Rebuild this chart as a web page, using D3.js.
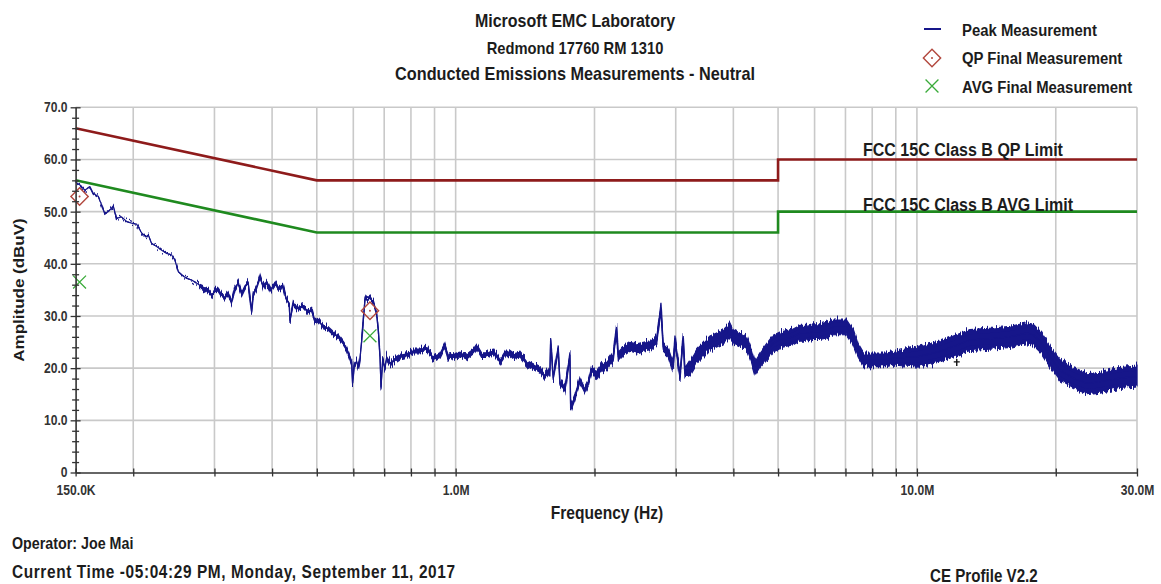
<!DOCTYPE html>
<html>
<head>
<meta charset="utf-8">
<script src="https://cdn.jsdelivr.net/npm/d3@7"></script>
<style>
  html, body { margin: 0; padding: 0; background: #ffffff; }
  svg { display: block; }
  text { font-family: "Liberation Sans", Arial, Helvetica, sans-serif; font-weight: bold; }
</style>
</head>
<body>
<svg id="chart" width="1161" height="584"></svg>
<script>
// ---- Peak sweep: frequency (MHz) and amplitude (dBuV) ----
const peakFreq = [
  0.150, 0.1533, 0.1571, 0.1611, 0.1638, 0.1680, 0.1708, 0.1736, 0.1780, 0.1810,
  0.1841, 0.1887, 0.1935, 0.1984, 0.2034, 0.2086, 0.2131, 0.2156, 0.2193, 0.2248,
  0.2305, 0.2363, 0.2423, 0.2463, 0.2504, 0.2547, 0.2611, 0.2677, 0.2745, 0.2814,
  0.2885, 0.2958, 0.3007, 0.3057, 0.3109, 0.3161, 0.3213, 0.3268, 0.3323, 0.3378,
  0.3436, 0.3493, 0.3551, 0.3612, 0.3641, 0.3703, 0.3765, 0.3827, 0.3893, 0.3972,
  0.4058, 0.4124, 0.4217, 0.4287, 0.4358, 0.4374, 0.4446, 0.4558, 0.4673, 0.4791,
  0.4873, 0.4955, 0.5037, 0.5164, 0.5294, 0.5428, 0.5566, 0.5706, 0.5804,
  0.5951, 0.5980, 0.6028, 0.6101, 0.6150, 0.6201, 0.6254, 0.6305, 0.6359, 0.6413,
  0.6520, 0.6629, 0.6742, 0.6797, 0.6855, 0.6890, 0.6949, 0.7028, 0.7088, 0.7206,
  0.7388, 0.7575, 0.7829, 0.8092, 0.8367, 0.8652, 0.8796, 0.8941, 0.9246, 0.9480,
  0.9638, 0.9881, 1.0217, 1.0564, 1.0918, 1.1103, 1.1385, 1.1674, 1.2063, 1.2474,
  1.2900, 1.3332, 1.3785, 1.4253, 1.4731, 1.5230, 1.5617, 1.6012, 1.6068, 1.6279,
  1.6690, 1.6833, 1.7256, 1.7692, 1.7754, 1.8137, 1.8598, 1.9067, 1.9382, 1.9715,
  2.0215, 2.0725, 2.1247, 2.1958, 2.2336, 2.2516, 2.3083, 2.3867, 2.4683, 2.5510,
  2.6376, 2.7272, 2.7868, 2.8184, 2.8898, 2.9628, 2.9882, 3.0634, 3.1146, 3.1412,
  3.2203, 3.3297, 3.4412, 3.5588, 3.6796, 3.8029, 3.9318, 3.9976, 4.1334, 4.2737,
  4.3822, 4.4545, 4.5675, 4.7226, 4.8807, 5.0466, 5.2180, 5.3938, 5.5770, 5.7677,
  5.9610, 6.1618, 6.3722, 6.5855, 6.8090, 7.0401, 7.2761, 7.4611, 7.6497, 8.0410,
  8.5989, 8.8869, 10.065, 11.216, 12.194, 13.029, 14.638, 15.907, 17.293, 17.873,
  18.638, 19.429, 20.417, 21.823, 23.335, 24.935, 27.542, 30.0
];
const peakDb = [
  55.7, 55.1, 54.1, 54.8, 53.5, 52.9, 51.3, 49.5, 50.3, 51.1,
  48.7, 49.0, 48.1, 47.8, 47.6, 45.9, 45.2, 45.5, 43.9, 43.3,
  42.6, 42.0, 41.7, 40.7, 38.5, 37.9, 37.2, 36.9, 36.3, 35.6,
  35.1, 34.0, 34.7, 35.0, 34.0, 33.4, 34.3, 32.7, 35.3, 36.3,
  34.3, 35.6, 36.3, 30.8, 34.3, 35.6, 37.5, 35.6, 36.6, 35.0,
  36.3, 35.3, 35.9, 33.4, 32.4, 29.2, 32.4, 31.5, 31.8, 30.8,
  31.1, 28.9, 29.2, 27.9, 27.6, 26.7, 26.0, 24.8, 23.8,
  21.2, 17.1, 20.6, 21.2, 20.0, 21.6, 25.1, 29.2, 33.1, 33.7,
  33.4, 32.7, 30.5, 27.3, 22.2, 16.4, 21.6, 20.0, 21.9, 20.9,
  21.6, 22.2, 22.5, 23.2, 23.2, 23.8, 22.8, 21.9, 22.5, 24.4,
  22.2, 22.5, 22.8, 22.2, 23.2, 24.1, 22.5, 22.5, 23.2, 21.2,
  23.2, 22.2, 22.5, 20.9, 20.3, 19.6, 18.4, 19.6, 25.4, 18.1,
  23.8, 17.1, 15.8, 22.5, 12.3, 14.5, 17.7, 15.8, 17.1, 19.6,
  18.7, 20.0, 20.6, 22.2, 27.6, 22.2, 23.2, 24.1, 23.8, 24.1,
  24.4, 25.4, 31.5, 24.1, 23.2, 20.3, 25.4, 18.4, 25.7, 19.0,
  20.0, 22.2, 23.5, 24.8, 25.4, 26.0, 27.3, 26.0, 25.4, 24.8,
  22.2, 20.0, 21.6, 23.2, 24.8, 25.4, 25.7, 26.0, 26.7, 26.7,
  27.0, 27.0, 27.3, 27.9, 27.9, 27.9, 26.0, 23.2, 21.6, 21.6,
  21.6, 21.9, 22.2, 23.2, 24.4, 25.4, 25.7, 26.0, 26.7, 26.4,
  24.8, 22.2, 19.6, 18.1, 17.1, 17.4, 18.1, 18.4
];
// Half-height (dB) of the dense noise band around the peak trace, by range start (MHz)
const bandStartMHz = [0.15, 0.275, 0.59, 0.70, 1.3, 2.0, 3.2, 4.6, 7.4, 10, 20];
const bandHalfDb   = [0.0,  0.35,  0.3,  0.45, 0.55, 0.85, 1.35, 1.5, 1.3, 2.0, 2.0];

// ---- FCC 15C Class B limits ----
const qpLimitFreq  = [0.15, 0.5, 5, 5, 30];
const qpLimitDb    = [66, 56, 56, 60, 60];
const avgLimitFreq = [0.15, 0.5, 5, 5, 30];
const avgLimitDb   = [56, 46, 46, 50, 50];

// ---- Final measurements ----
const qpFinalFreq  = [0.153, 0.652];
const qpFinalDb    = [52.9, 31.0];
const avgFinalFreq = [0.153, 0.652];
const avgFinalDb   = [36.5, 26.2];
const cursorFreq   = [12.2];
const cursorDb     = [21.2];

// ---- Axes ----
const gridFreq    = [0.2, 0.3, 0.4, 0.5, 0.6, 0.7, 0.8, 0.9, 1, 2, 3, 4, 5, 6, 7, 8, 9, 10, 20, 30];
const xTickValues = [0.15, 1, 10, 30];
const xTickLabels = ["150.0K", "1.0M", "10.0M", "30.0M"];
const yTickValues = [0, 10, 20, 30, 40, 50, 60, 70];
const yTickLabels = ["0", "10.0", "20.0", "30.0", "40.0", "50.0", "60.0", "70.0"];
const yMinorStep  = 2;

const COLORS = {
  peak: "#16168a",
  qp: "#8e1b1b",
  avg: "#1f8a1f",
  qpMark: "#b2473d",
  avgMark: "#3aab3a",
  grid: "#c9c9c9",
  axis: "#333333",
  text: "#1c1c1c"
};
const SQUEEZE = 0.866;   // horizontal condensation applied to all lettering

const svg = d3.select("#chart");
const x = d3.scaleLog().domain([0.15, 30]).range([75.6, 1137]);
const y = d3.scaleLinear().domain([0, 70]).range([472.5, 107.3]);

// Sweep noise: shift each pixel column of the band up/down a little
const defs = svg.append("defs");
const jitter = defs.append("filter").attr("id", "sweep-noise")
  .attr("filterUnits", "userSpaceOnUse")
  .attr("x", 0).attr("y", 0).attr("width", 1161).attr("height", 584);
jitter.append("feTurbulence").attr("type", "fractalNoise")
  .attr("baseFrequency", "0.8 0.012").attr("numOctaves", 2).attr("seed", 7).attr("result", "noise");
jitter.append("feColorMatrix").attr("in", "noise").attr("type", "matrix")
  .attr("values", "0 0 0 0 0.5  0 1 0 0 0  0 0 1 0 0  0 0 0 0 1").attr("result", "shift");
jitter.append("feDisplacementMap").attr("in", "SourceGraphic").attr("in2", "shift")
  .attr("scale", 11).attr("xChannelSelector", "R").attr("yChannelSelector", "G");

function label(parent, str, px, py, size, anchor = "start", fill = COLORS.text) {
  return parent.append("text")
    .attr("transform", `translate(${px},${py}) scale(${SQUEEZE},1)`)
    .attr("text-anchor", anchor)
    .attr("font-size", size)
    .attr("fill", fill)
    .text(str);
}

// ---- grid ----
const grid = svg.append("g");
grid.selectAll("line.v").data(gridFreq).join("line")
  .attr("x1", d => x(d)).attr("x2", d => x(d))
  .attr("y1", y(70)).attr("y2", y(0))
  .attr("stroke", COLORS.grid).attr("stroke-width", 1.6);
grid.selectAll("line.h").data(yTickValues.filter(v => v > 0)).join("line")
  .attr("x1", x(0.15)).attr("x2", x(30))
  .attr("y1", d => y(d)).attr("y2", d => y(d))
  .attr("stroke", COLORS.grid).attr("stroke-width", 1.6);

// ---- limit lines ----
const limLine = d3.line().x(d => x(d[0])).y(d => y(d[1]));
svg.append("path").datum(d3.zip(qpLimitFreq, qpLimitDb))
  .attr("d", limLine).attr("fill", "none").attr("stroke", COLORS.qp).attr("stroke-width", 2.6);
svg.append("path").datum(d3.zip(avgLimitFreq, avgLimitDb))
  .attr("d", limLine).attr("fill", "none").attr("stroke", COLORS.avg).attr("stroke-width", 2.6);

// ---- peak trace ----
function bandHalf(f) {
  let h = bandHalfDb[0];
  bandStartMHz.forEach((s, i) => { if (f >= s) h = bandHalfDb[i]; });
  return h;
}
const peak = d3.zip(peakFreq, peakDb);
const band = k => d3.area()
  .x(d => x(d[0]))
  .y0(d => y(d[1] - k * bandHalf(d[0])))
  .y1(d => y(d[1] + k * bandHalf(d[0])));
// ragged outer envelope
svg.append("path").datum(peak)
  .attr("d", band(1))
  .attr("fill", COLORS.peak)
  .attr("stroke", COLORS.peak).attr("stroke-width", 1.2)
  .attr("filter", "url(#sweep-noise)");
// dense core of the sweep
svg.append("path").datum(peak)
  .attr("d", band(0.55))
  .attr("fill", COLORS.peak);
svg.append("path").datum(peak)
  .attr("d", d3.line().x(d => x(d[0])).y(d => y(d[1])))
  .attr("fill", "none").attr("stroke", COLORS.peak).attr("stroke-width", 1.2)
  .attr("stroke-linejoin", "round");

// ---- final measurement markers ----
const diamond = d3.symbol(d3.symbolSquare, 150)();
const cross = d3.symbol(d3.symbolTimes, 110)();
function qpMarker(g) {
  g.append("path").attr("d", diamond).attr("transform", "rotate(45)")
    .attr("fill", "none").attr("stroke", COLORS.qpMark).attr("stroke-width", 1.4);
  g.append("circle").attr("r", 1).attr("fill", COLORS.qpMark);
}
function avgMarker(g) {
  g.append("path").attr("d", cross)
    .attr("fill", "none").attr("stroke", COLORS.avgMark).attr("stroke-width", 1.3);
}
svg.selectAll("g.qp").data(d3.zip(qpFinalFreq, qpFinalDb)).join("g")
  .attr("transform", d => `translate(${x(d[0])},${y(d[1])})`)
  .each(function () { qpMarker(d3.select(this)); });
svg.selectAll("g.avg").data(d3.zip(avgFinalFreq, avgFinalDb)).join("g")
  .attr("transform", d => `translate(${x(d[0])},${y(d[1])})`)
  .each(function () { avgMarker(d3.select(this)); });
svg.selectAll("path.cursor").data(d3.zip(cursorFreq, cursorDb)).join("path")
  .attr("d", d => `M${x(d[0]) - 3},${y(d[1])}h6M${x(d[0])},${y(d[1]) - 3}v7`)
  .attr("stroke", "#111").attr("stroke-width", 1.4);

// ---- axes ----
const xLabelOf = d => { const i = xTickValues.indexOf(d); return i >= 0 ? xTickLabels[i] : ""; };
const gx = svg.append("g").attr("transform", `translate(0,${y(0)})`)
  .call(d3.axisBottom(x).tickValues([0.15].concat(gridFreq)).tickSizeInner(4).tickSizeOuter(0)
    .tickPadding(9).tickFormat(xLabelOf));
gx.select(".domain").attr("stroke", COLORS.axis).attr("stroke-width", 1.6);
gx.selectAll(".tick line").attr("y1", -4).attr("stroke", COLORS.axis).attr("stroke-width", 1.3);
gx.selectAll(".tick text")
  .attr("font-size", 14).attr("font-family", null).attr("fill", COLORS.axis)
  .attr("transform", `scale(${SQUEEZE},1)`);

const yMinor = d3.range(0, 70 + yMinorStep, yMinorStep).filter(v => v % 10 !== 0);
const gyMinor = svg.append("g").attr("transform", `translate(${x(0.15)},0)`)
  .call(d3.axisLeft(y).tickValues(yMinor).tickSizeInner(3.5).tickSizeOuter(0).tickFormat(""));
gyMinor.selectAll(".tick line").attr("x2", -3.5).attr("x1", 3.5).attr("stroke", COLORS.axis).attr("stroke-width", 1.3);
gyMinor.select(".domain").attr("stroke", COLORS.axis).attr("stroke-width", 1.6);

const gy = svg.append("g").attr("transform", `translate(${x(0.15)},0)`)
  .call(d3.axisLeft(y).tickValues(yTickValues).tickSizeInner(5).tickSizeOuter(0).tickPadding(4)
    .tickFormat((d, i) => yTickLabels[i]));
gy.select(".domain").remove();
gy.selectAll(".tick line").attr("x1", 5).attr("stroke", COLORS.axis).attr("stroke-width", 1.3);
gy.selectAll(".tick text")
  .attr("font-size", 14).attr("font-family", null).attr("fill", COLORS.axis)
  .attr("transform", `scale(${SQUEEZE},1)`)
  .attr("x", -8 / SQUEEZE);

// ---- titles ----
label(svg, "Microsoft EMC Laboratory", 575, 27, 18.5, "middle");
label(svg, "Redmond 17760 RM 1310", 575, 54, 17, "middle");
label(svg, "Conducted Emissions Measurements - Neutral", 575, 80, 18.8, "middle");

// ---- limit captions ----
label(svg, "FCC 15C Class B QP Limit", 863, 156, 18.5);
label(svg, "FCC 15C Class B AVG Limit", 863, 211, 18.5);

// ---- axis titles ----
label(svg, "Frequency (Hz)", 607, 519, 18, "middle");
svg.append("text")
  .attr("transform", `translate(24,290) scale(${SQUEEZE},1) rotate(-90)`)
  .attr("text-anchor", "middle").attr("font-size", 17).attr("fill", COLORS.text)
  .text("Amplitude (dBuV)");

// ---- legend ----
const legend = svg.append("g");
legend.append("line").attr("x1", 924).attr("x2", 941).attr("y1", 29).attr("y2", 29)
  .attr("stroke", COLORS.peak).attr("stroke-width", 2);
qpMarker(legend.append("g").attr("transform", "translate(932,58)"));
avgMarker(legend.append("g").attr("transform", "translate(932,86)"));
label(legend, "Peak Measurement", 962, 36, 17.2);
label(legend, "QP Final Measurement", 962, 64, 17.2);
label(legend, "AVG Final Measurement", 962, 93, 17.2);

// ---- footer ----
label(svg, "Operator: Joe Mai", 12, 549, 16.5);
label(svg, "Current Time -05:04:29 PM, Monday, September 11, 2017", 12, 578, 17.8)
  .attr("textLength", 443 / SQUEEZE).attr("lengthAdjust", "spacing");
label(svg, "CE Profile V2.2", 930, 582, 17.5);
</script>
</body>
</html>
